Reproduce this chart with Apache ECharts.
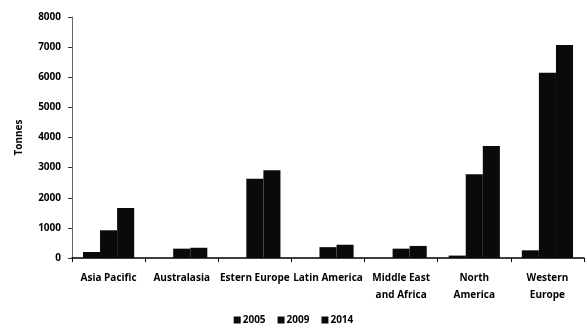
<!DOCTYPE html>
<html><head><meta charset="utf-8">
<script src="https://cdn.jsdelivr.net/npm/echarts@6/dist/echarts.min.js"></script>
<style>html,body{margin:0;padding:0;background:#fff}#c{width:587px;height:334px}</style>
</head><body><div id="c"></div>
<script>
const categories = ["Asia Pacific","Australasia","Estern Europe","Latin America","Middle East\nand Africa","North\nAmerica","Western\nEurope"];
const seriesNames = ["2005","2009","2014"];
const v2005 = [200, 0, 0, 0, 0, 80, 255];
const v2009 = [920, 310, 2630, 360, 310, 2780, 6150];
const v2014 = [1660, 340, 2910, 440, 400, 3720, 7070];
const yTicks = [0,1000,2000,3000,4000,5000,6000,7000,8000];

const font = {fontFamily:'"Open Sans", "Liberation Sans", sans-serif', fontWeight:'bold', color:'#000'};
const chart = echarts.init(document.getElementById('c'), null, {renderer:'canvas'});
const mk = (name, data) => ({name, type:'bar', data, barGap:'0%', barCategoryGap:'30%',
  itemStyle:{color:'#0a0a0a'}});
chart.setOption({
  animation:false,
  grid:{left:72, right:3, top:17, bottom:76, containLabel:false},
  legend:{bottom:4, left:'center', itemWidth:7, itemHeight:7, itemGap:12,
    icon:'rect', textStyle:Object.assign({fontSize:10, padding:[0,0,0,-3]}, font),
    data:seriesNames},
  xAxis:{type:'category', data:categories,
    axisLine:{lineStyle:{color:'#000', width:1.5}},
    axisTick:{show:true, length:4, lineStyle:{color:'#000'}},
    axisLabel:Object.assign({fontSize:10, margin:12, lineHeight:17, interval:0}, font)},
  yAxis:{type:'value', min:0, max:8000, interval:1000,
    name:'Tonnes', nameLocation:'middle', nameGap:48, nameRotate:90,
    nameTextStyle:Object.assign({fontSize:10}, font),
    axisLine:{show:true, lineStyle:{color:'#666', width:1}},
    axisTick:{show:true, length:4, lineStyle:{color:'#333'}},
    splitLine:{show:false},
    axisLabel:Object.assign({fontSize:10, margin:11,
      formatter:(v)=> yTicks.includes(v) ? String(v) : ''}, font)},
  series:[mk(seriesNames[0], v2005), mk(seriesNames[1], v2009), mk(seriesNames[2], v2014)]
});
</script></body></html>
